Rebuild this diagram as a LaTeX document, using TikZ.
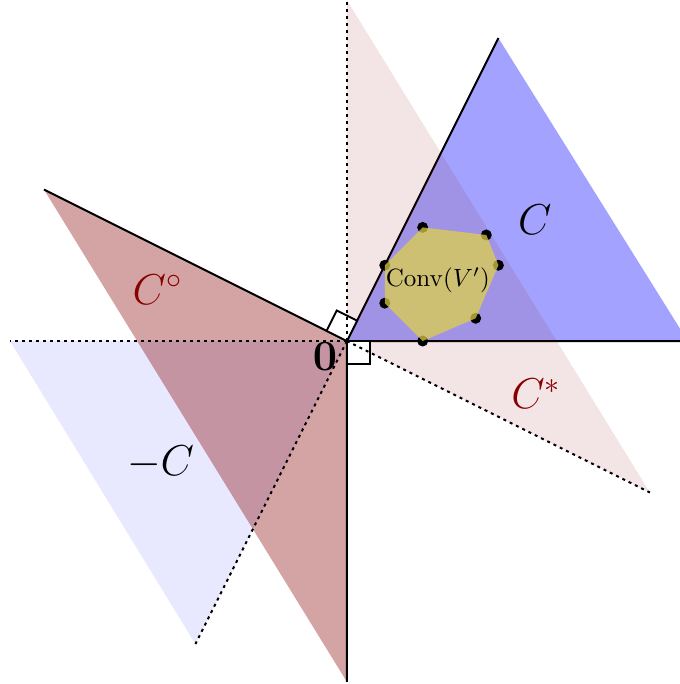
\documentclass[tikz,border=0pt]{standalone}
\usepackage{amsmath}
\definecolor{dred}{RGB}{137,0,0}
\definecolor{hepta}{RGB}{225,210,70}
\tikzset{
  solidedge/.style={line width=0.8pt,black},
  dotedge/.style={line width=0.8pt,black,dash pattern=on 1.2pt off 1.6pt},
  rightmark/.style={line width=0.75pt,black,fill=white},
  vdot/.style={circle,fill=black,inner sep=0pt,minimum size=4.4pt},
}
\begin{document}
\begin{tikzpicture}[x=60.6pt,y=60.6pt]
\useasboundingbox (-2.29,-2.264) rectangle (2.198,2.251);
\clip (-2.29,-2.264) rectangle (2.198,2.251);
\coordinate (O) at (0,0);
\coordinate (c1) at (1,2);
\coordinate (c2) at (2.25,0);
\coordinate (m1) at (-2.224,0);
\coordinate (m2) at (-1,-2);
\coordinate (s1) at (0,2.25);
\coordinate (s2) at (2,-1);
\coordinate (p1) at (-2,1);
\coordinate (p2) at (0,-2.25);
% fills
\fill[blue,opacity=0.09] (O) -- (m1) -- (m2) -- cycle;
\fill[blue,opacity=0.36] (O) -- (c1) -- (c2) -- cycle;
\fill[dred,opacity=0.36] (O) -- (p1) -- (p2) -- cycle;
% solid edges
\draw[solidedge] (c1) -- (O) -- (c2);
\draw[solidedge] (p1) -- (O) -- (p2);
% dual cone
\fill[dred,opacity=0.1] (O) -- (s1) -- (s2) -- cycle;
% right angle marks
\draw[rightmark] (O) -- (0.0671,0.1342) -- (-0.0671,0.2013) -- (-0.1342,0.0671) -- cycle;
\draw[rightmark] (O) rectangle (0.15,-0.15);
% dotted edges
\draw[dotedge] (O) -- (s1);
\draw[dotedge] (O) -- (s2);
\draw[dotedge] (O) -- (m1);
\draw[dotedge] (O) -- (m2);
% polytope
\node[vdot] (v1) at (0.5,0.75) {};
\node[vdot] (v2) at (0.92,0.7) {};
\node[vdot] (v3) at (1.0,0.5) {};
\node[vdot] (v4) at (0.85,0.15) {};
\node[vdot] (v5) at (0.5,0) {};
\node[vdot] (v6) at (0.25,0.25) {};
\node[vdot] (v7) at (0.25,0.5) {};
\fill[hepta,opacity=0.72] (v1.center) -- (v2.center) -- (v3.center) -- (v4.center) -- (v5.center) -- (v6.center) -- (v7.center) -- cycle;
\node (conv) at (0.6,0.4) {$\mathrm{Conv}(V')$};
% labels
\node (lC) at (1.24,0.80) {\LARGE $C$};
\node[text=dred] (lCo) at (-1.25,0.34) {\LARGE $C^\circ$};
\node[text=dred] (lCs) at (1.25,-0.35) {\LARGE $C^*$};
\node (lmC) at (-1.23,-0.80) {\LARGE $-C$};
\node[inner sep=0pt] (zero) at (-0.145,-0.1) {\LARGE $\mathbf{0}$};
\end{tikzpicture}
\end{document}
